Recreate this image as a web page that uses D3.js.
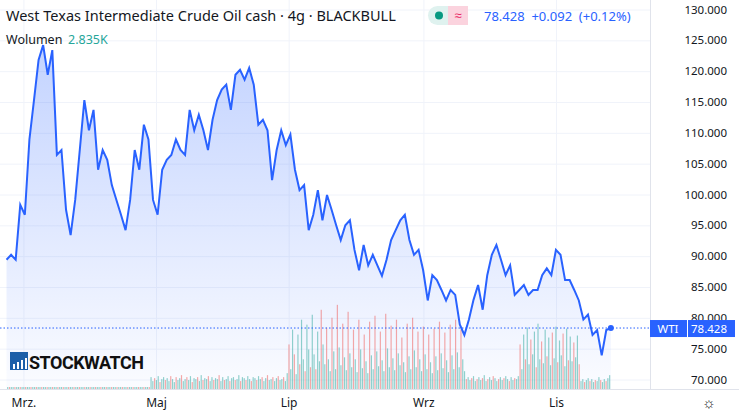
<!DOCTYPE html><html><head><meta charset="utf-8"><script src="https://cdn.jsdelivr.net/npm/d3@7"></script>
<style>body{margin:0;background:#fff;font-family:"Noto Sans",sans-serif}</style></head><body><svg id="c" width="739" height="414"></svg>
<script>
const prices=[89.5,90.3,89.5,98.4,96.8,109,115.4,121.9,124.3,119.5,123.5,106.5,107.3,97.6,93.5,99.2,107.3,115.4,110.5,113.8,104.1,107.3,105.7,101.6,99.2,96.8,94.3,99.2,107.3,104.1,111.4,109,99.2,96.8,104.1,105.7,106.5,109,107.3,106.5,113.8,110.5,113,110.5,107.3,112.2,115.4,117.1,117.9,113.8,119.5,120.3,118.7,120.6,117.9,111.4,112.2,110.5,102.4,107.3,110.5,108.1,109.8,104.1,100.8,101.6,94.3,96.8,100.8,95.9,100,97.6,95.1,92.7,95.1,95.9,91.1,87.8,91.9,88.6,90.3,88.6,86.9,89.5,92.7,94.3,95.9,96.8,92.7,90.3,91.1,87.8,82.9,87,86.2,84.6,82.9,84.6,83.8,79,77.3,79.8,83,85.4,81.4,87,90.3,91.9,89.5,87,88.6,83.8,84.6,85.4,83.8,84.6,84.6,87,88.1,87,91.1,90.3,86.2,86.2,84.6,82.9,79.8,80.6,77.3,78.1,74,78.1,78.43];
const volumes=[2,2,2,2,2,2,2,2,2,2,2,2,2,2,2,2,2,2,2,2,2,2,2,2,2,2,2,2,2,2,2,2,2,2,2,2,2,2,2,2,2,2,2,2,2,2,2,2,2,2,2,2,2,2,2,2,2,2,2,2,2,2,2,2,2,2,2,2,2,2,2,2,2,2,2,2,2,2,2,2,
12,8,11,9,13,7,10,12,9,11,8,13,10,7,12,9,11,14,8,10,12,9,13,7,11,10,12,8,14,9,11,10,13,8,12,9,11,10,14,8,12,9,10,13,8,11,12,9,10,14,8,12,11,9,13,10,8,12,11,9,13,10,12,8,11,14,9,10,12,8,11,13,9,10,12,8,
16,45,20,60,35,15,55,25,70,30,18,65,40,22,75,35,20,58,28,80,45,25,62,30,18,72,38,20,85,42,24,66,32,19,78,36,22,60,30,17,70,40,21,55,28,16,68,34,20,74,38,23,58,29,18,76,41,22,64,31,19,70,36,24,52,27,17,66,33,20,72,39,22,58,30,18,63,35,20,55,27,16,61,33,19,68,36,21,57,29,17,65,34,20,70,37,22,60,30,18,
10,12,9,11,13,8,10,12,9,11,14,8,10,12,9,13,11,8,10,12,9,11,13,10,8,12,9,11,10,13,
45,20,55,30,62,25,50,35,58,22,66,30,48,26,60,33,52,24,57,31,63,27,49,34,56,23,61,29,53,28,47,32,54,25,
8,10,7,9,11,8,10,7,9,8,12,9,7,10,8,11,14];
const priceTicks=[70,75,80,85,90,95,100,105,110,115,120,125,130];
const monthLabels=[["2022-03-01","Mrz."],["2022-05-01","Maj"],["2022-07-01","Lip"],["2022-09-01","Wrz"],["2022-11-01","Lis"]];
const startDate=new Date("2022-02-21"),endDate=new Date("2022-11-26");
const last=78.428;

const svg=d3.select("#c");
const W=650;
const x=d3.scaleTime().domain([new Date("2022-02-18"),new Date("2022-12-14")]).range([0,W]);
const y=d3.scaleLinear().domain([70,130]).range([380,10]);
const dates=prices.map((p,i)=>new Date(+startDate+(endDate-startDate)*i/(prices.length-1)));
svg.append("g").selectAll("line").data(priceTicks).join("line").attr("x1",0).attr("x2",W).attr("y1",d=>y(d)).attr("y2",d=>y(d)).attr("stroke","#f0f3fa");
svg.append("g").selectAll("line").data(monthLabels).join("line").attr("x1",d=>x(new Date(d[0]))).attr("x2",d=>x(new Date(d[0]))).attr("y1",0).attr("y2",389).attr("stroke","#f0f3fa");
const gr=svg.append("defs").append("linearGradient").attr("id","g").attr("x1",0).attr("x2",0).attr("y1",0).attr("y2",1);
gr.append("stop").attr("offset","0%").attr("stop-color","#2962ff").attr("stop-opacity",0.28);
gr.append("stop").attr("offset","100%").attr("stop-color","#2962ff").attr("stop-opacity",0.02);
svg.append("path").datum(prices).attr("fill","url(#g)").attr("d",d3.area().x((d,i)=>x(dates[i])).y0(389).y1(d=>y(d)));
const vx=d3.scaleBand().domain(d3.range(volumes.length)).range([x(startDate),x(endDate)]).padding(0.35);
const vy=d3.scaleLinear().domain([0,100]).range([389,290]);
svg.append("g").selectAll("rect").data(volumes).join("rect").attr("x",(d,i)=>vx(i)).attr("width",Math.max(0.7,vx.bandwidth())).attr("y",d=>vy(d)).attr("height",d=>389-vy(d))
 .attr("fill",(d,i)=>i%3===1?"rgba(239,83,80,0.5)":"rgba(38,166,154,0.5)");
svg.append("path").datum(prices).attr("fill","none").attr("stroke","#2962ff").attr("stroke-width",2).attr("d",d3.line().x((d,i)=>x(dates[i])).y(d=>y(d)));
svg.append("circle").attr("cx",x(endDate)).attr("cy",y(last)).attr("r",3).attr("fill","#2962ff");
svg.append("line").attr("x1",0).attr("x2",W).attr("y1",y(last)).attr("y2",y(last)).attr("stroke","#2962ff").attr("stroke-dasharray","1.5,2");
svg.append("line").attr("x1",W+0.5).attr("x2",W+0.5).attr("y1",0).attr("y2",389).attr("stroke","#e0e3eb");
svg.append("line").attr("x1",0).attr("x2",739).attr("y1",389.5).attr("y2",389.5).attr("stroke","#e0e3eb");
svg.append("g").selectAll("text").data(priceTicks).join("text").attr("x",727).attr("y",d=>y(d)+3.5).attr("text-anchor","end").attr("font-size",11.5).attr("fill","#131722").text(d=>d.toFixed(3));
svg.append("rect").attr("x",W).attr("y",y(last)-8).attr("width",37).attr("height",17).attr("fill","#2962ff");
svg.append("rect").attr("x",W+38).attr("y",y(last)-8).attr("width",47).attr("height",17).attr("fill","#2962ff");
svg.append("text").attr("x",W+18).attr("y",y(last)+4.5).attr("text-anchor","middle").attr("font-size",11.5).attr("fill","#fff").text("WTI");
svg.append("text").attr("x",727).attr("y",y(last)+4.5).attr("text-anchor","end").attr("font-size",11.5).attr("fill","#fff").text(last.toFixed(3));
svg.append("g").selectAll("text").data(monthLabels).join("text").attr("x",d=>x(new Date(d[0]))).attr("y",407).attr("text-anchor","middle").attr("font-size",12).attr("fill","#131722").text(d=>d[1]);
svg.append("text").attr("x",709).attr("y",408).attr("text-anchor","middle").attr("font-size",15).attr("fill","#131722").text("☼");
svg.append("text").attr("x",6).attr("y",21).attr("font-size",14.5).attr("fill","#131722").text("West Texas Intermediate Crude Oil cash · 4g · BLACKBULL");
svg.append("rect").attr("x",428).attr("y",6).attr("width",40).attr("height",19).attr("rx",9.5).attr("fill","#dff2ef");
svg.append("rect").attr("x",448).attr("y",6).attr("width",20).attr("height",19).attr("fill","#fbd3de");
svg.append("circle").attr("cx",439).attr("cy",15.5).attr("r",4).attr("fill","#089981");
svg.append("text").attr("x",458).attr("y",20).attr("text-anchor","middle").attr("font-size",13).attr("fill","#e91e63").text("≈");
svg.append("text").attr("x",484).attr("y",21).attr("font-size",13).attr("fill","#2962ff").attr("xml:space","preserve").text("78.428  +0.092  (+0.12%)");
svg.append("text").attr("x",6).attr("y",44).attr("font-size",12.5).attr("fill","#131722").text("Wolumen");
svg.append("text").attr("x",68).attr("y",44).attr("font-size",12.5).attr("fill","#26a69a").text("2.835K");
const lg=svg.append("g");
lg.append("rect").attr("x",10).attr("y",352).attr("width",18).attr("height",18).attr("fill","#1c5fa8");
[2,6,10,14].forEach((o,i)=>lg.append("rect").attr("x",12+o-1).attr("y",364-i*2).attr("width",2).attr("height",5+i*2).attr("fill","#fff"));
lg.append("text").attr("x",29).attr("y",369).attr("font-size",18).attr("font-weight","bold").attr("font-family","Liberation Sans Narrow, Roboto, sans-serif").attr("fill","#111").attr("letter-spacing","-0.5").text("STOCKWATCH");
</script></body></html>
